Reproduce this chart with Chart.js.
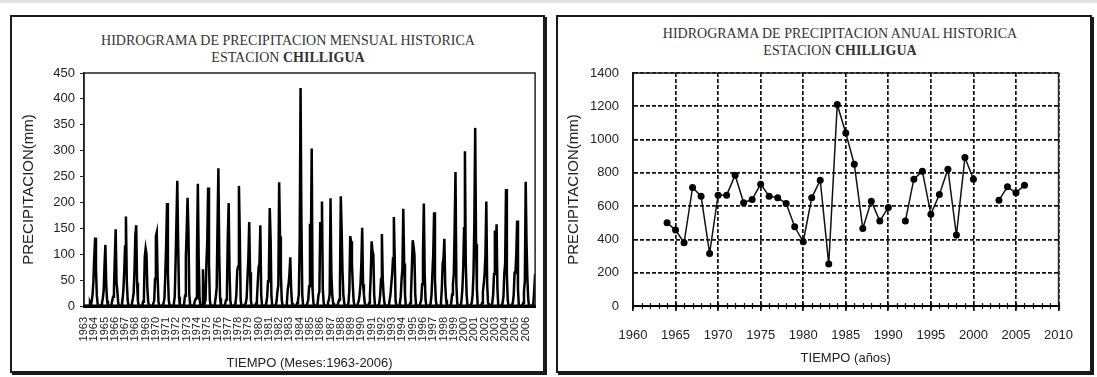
<!DOCTYPE html>
<html>
<head>
<meta charset="utf-8">
<script src="https://cdn.jsdelivr.net/npm/chart.js@4.4.1/dist/chart.umd.min.js"></script>
<style>
  body { margin:0; width:1097px; height:377px; background:#fff; position:relative; overflow:hidden; }
  .strip { position:absolute; left:0; top:0; width:1097px; height:3px; background:#e2e2e2; }
  .panel { position:absolute; border:2px solid #1a1a1a; box-sizing:border-box; box-shadow:2px 2px 0 #1a1a1a; background:#fff; }
  .ttl { position:absolute; font-family:'Liberation Serif','Times New Roman',serif; font-size:14px; color:#333;
         text-align:center; line-height:17px; white-space:nowrap; transform:translateX(-50%); }
  canvas { position:absolute; }
</style>
</head>
<body>
<div class="strip"></div>
<div class="panel" style="left:10px;top:15px;width:535px;height:358px;"></div>
<div class="panel" style="left:556px;top:15px;width:536px;height:358px;"></div>

<div class="ttl" style="left:288px;top:32px;">HIDROGRAMA DE PRECIPITACION MENSUAL HISTORICA<br>ESTACION <b>CHILLIGUA</b></div>
<div class="ttl" style="left:840px;top:25px;">HIDROGRAMA DE PRECIPITACION ANUAL HISTORICA<br>ESTACION <b>CHILLIGUA</b></div>

<canvas id="mensual" width="530" height="354" style="left:12px;top:17px;"></canvas>
<canvas id="anual" width="531" height="354" style="left:559px;top:17px;"></canvas>

<script>
// Años de registro de la estación (eje de meses)
const years = [1963,1964,1965,1966,1967,1968,1969,1970,1971,1972,1973,1974,1975,1976,1977,1978,1979,1980,1981,1982,
               1983,1984,1985,1986,1987,1988,1989,1990,1991,1992,1993,1994,1995,1996,1997,1998,1999,2000,2001,2002,
               2003,2004,2005,2006];

// Precipitación mensual (mm), ene..dic, una fila por año
const lluviaMensual = [
  [0,0,0,0,0,0,0,5,0,10,22,48],
  [95,132,72,20,3,0,0,0,2,5,15,30],
  [80,118,40,10,0,0,0,0,2,10,18,32],
  [92,148,45,28,5,0,0,0,0,12,30,68],
  [115,173,48,12,0,0,0,0,5,14,25,70],
  [137,156,45,10,0,0,0,0,0,8,20,95],
  [111,100,35,8,0,0,0,0,0,5,10,52],
  [135,142,55,8,0,0,0,0,0,6,15,62],
  [120,199,65,12,0,0,0,0,0,5,18,85],
  [165,242,120,18,0,0,0,0,0,5,20,95],
  [148,209,145,22,3,0,0,0,0,6,12,15],
  [105,236,90,15,0,0,0,71,0,6,12,82],
  [125,229,85,12,0,0,0,0,0,6,18,35],
  [155,266,100,15,0,0,0,0,0,5,12,30],
  [134,199,65,10,0,0,0,0,0,6,22,68],
  [76,232,140,12,0,0,0,0,0,6,15,55],
  [92,162,65,10,0,0,0,0,0,5,12,45],
  [75,82,156,22,0,0,0,0,0,6,18,48],
  [64,189,130,18,0,0,0,0,0,10,28,40],
  [239,134,62,12,0,0,0,0,0,6,32,42],
  [62,94,32,6,0,0,0,0,0,6,12,22],
  [130,421,160,22,0,0,0,0,0,6,12,38],
  [159,99,304,32,6,0,0,0,0,6,22,28],
  [162,140,202,32,6,0,0,0,0,6,12,22],
  [208,62,22,6,0,0,0,0,0,6,12,42],
  [212,146,67,22,6,0,0,0,0,6,32,135],
  [125,82,42,10,0,0,0,0,0,10,22,42],
  [82,151,42,22,6,0,0,0,0,6,18,62],
  [125,106,100,22,0,0,0,0,0,6,22,52],
  [139,52,22,6,0,0,0,0,0,10,22,42],
  [62,92,172,92,10,0,0,0,0,6,18,52],
  [72,188,82,22,0,0,0,0,0,6,22,72],
  [127,115,100,22,0,0,0,0,0,6,12,42],
  [100,198,62,12,0,0,0,0,0,6,22,62],
  [100,181,52,12,0,0,0,0,0,6,32,82],
  [92,130,42,12,0,0,0,0,0,6,22,42],
  [62,150,259,42,6,0,0,0,0,10,32,72],
  [150,299,82,22,0,0,0,0,0,6,22,62],
  [160,344,120,32,0,0,0,0,0,6,28,42],
  [62,100,202,42,6,0,0,0,0,6,22,62],
  [146,100,158,32,0,0,0,0,0,6,18,62],
  [82,226,62,12,0,0,0,0,0,6,22,64],
  [64,100,165,32,0,0,0,0,0,6,28,48],
  [240,120,52,12,0,0,0,0,0,6,32,62]
];

// Precipitación anual (mm); null = año sin registro
const anios = [1964,1965,1966,1967,1968,1969,1970,1971,1972,1973,1974,1975,1976,1977,1978,1979,1980,1981,1982,1983,
               1984,1985,1986,1987,1988,1989,1990,1991,1992,1993,1994,1995,1996,1997,1998,1999,2000,2001,2002,2003,
               2004,2005,2006];
const lluviaAnual = [500,456,380,712,660,316,666,666,786,620,640,732,660,650,616,476,386,650,756,252,
                     1210,1040,852,466,630,510,592,null,510,762,810,552,670,822,426,892,762,null,null,636,
                     716,680,726];

const yTicksMensual = [0,50,100,150,200,250,300,350,400,450];
const yTicksAnual = [0,200,400,600,800,1000,1200,1400];
const xTicksAnual = [1960,1965,1970,1975,1980,1985,1990,1995,2000,2005,2010];

const sans = "'Liberation Sans', Arial, sans-serif";
const tickFont = { family: sans, size: 13 };
const axisTitleFont = { family: sans, size: 15 };
const ink = '#222';

// Marco sólido alrededor del área de trazado, con eje inferior más grueso
function marco(anchoBase) {
  return {
    id: 'marco',
    afterDraw(chart) {
      const { ctx, chartArea: a } = chart;
      ctx.save();
      ctx.strokeStyle = ink;
      ctx.lineWidth = 1.5;
      ctx.setLineDash([]);
      ctx.strokeRect(a.left, a.top, a.right - a.left, a.bottom - a.top);
      ctx.strokeStyle = '#000';
      ctx.lineWidth = anchoBase;
      ctx.beginPath();
      ctx.moveTo(a.left, a.bottom);
      ctx.lineTo(a.right, a.bottom);
      ctx.stroke();
      ctx.restore();
    }
  };
}

// Serie mensual continua
const puntosMensuales = [];
lluviaMensual.forEach((fila, i) => fila.forEach((v, m) => puntosMensuales.push({ x: i * 12 + m, y: v })));

new Chart(document.getElementById('mensual'), {
  type: 'line',
  data: { datasets: [{ data: puntosMensuales, borderColor: '#000', borderWidth: 2.5, pointRadius: 0, tension: 0 }] },
  options: {
    responsive: false, animation: false,
    layout: { padding: { left: 0, right: 5, top: 56, bottom: 0 } },
    plugins: { legend: { display: false }, tooltip: { enabled: false } },
    scales: {
      x: {
        type: 'linear', min: 0, max: years.length * 12 - 1,
        afterBuildTicks(s) { s.ticks = years.map((y, i) => ({ value: i * 12 })); },
        afterFit(s) { s.height = 65; },
        ticks: {
          autoSkip: false, minRotation: 90, maxRotation: 90, padding: 3, color: ink,
          font: { family: sans, size: 11 },
          callback: (v) => String(years[Math.round(v / 12)])
        },
        grid: { display: false },
        border: { color: '#000', width: 3 },
        title: { display: true, text: 'TIEMPO (Meses:1963-2006)', color: ink, font: tickFont, padding: { top: 0, bottom: 0 } }
      },
      y: {
        min: 0, max: 450,
        afterBuildTicks(s) { s.ticks = yTicksMensual.map(v => ({ value: v })); },
        afterFit(s) { s.width = 72; },
        ticks: { color: ink, font: tickFont, padding: 5, callback: v => String(v) },
        grid: { drawOnChartArea: false, tickLength: 4, color: ink },
        border: { color: ink, width: 1.5 },
        title: { display: true, text: 'PRECIPITACION(mm)', color: ink, font: axisTitleFont, padding: { top: 8, bottom: 2 } }
      }
    }
  },
  plugins: [marco(3)]
});

// Marcas menores anuales sobre el eje de tiempo
const marcasAnuales = {
  id: 'marcasAnuales',
  afterDraw(chart) {
    const { ctx, scales: { x }, chartArea: a } = chart;
    ctx.save();
    ctx.strokeStyle = '#111';
    ctx.lineWidth = 1.2;
    for (let y = xTicksAnual[0]; y <= xTicksAnual[xTicksAnual.length - 1]; y++) {
      const px = Math.round(x.getPixelForValue(y)) + 0.5;
      ctx.beginPath();
      ctx.moveTo(px, a.bottom - 3);
      ctx.lineTo(px, a.bottom + 3);
      ctx.stroke();
    }
    ctx.restore();
  }
};

new Chart(document.getElementById('anual'), {
  type: 'line',
  data: {
    datasets: [{
      data: anios.map((a, i) => ({ x: a, y: lluviaAnual[i] })),
      borderColor: '#111', borderWidth: 1.5, spanGaps: false, tension: 0,
      pointRadius: 3.5, pointBackgroundColor: '#000', pointBorderColor: '#000', pointBorderWidth: 0
    }]
  },
  options: {
    responsive: false, animation: false,
    layout: { padding: { left: 0, right: 21, top: 56, bottom: 0 } },
    plugins: { legend: { display: false }, tooltip: { enabled: false } },
    scales: {
      x: {
        type: 'linear', min: 1960, max: 2010,
        afterBuildTicks(s) { s.ticks = xTicksAnual.map(v => ({ value: v })); },
        afterFit(s) { s.height = 65; },
        ticks: { color: ink, font: tickFont, padding: 17, maxRotation: 0, callback: v => String(v) },
        grid: { color: '#111', lineWidth: 1.7, tickLength: 5, tickBorderDash: [] },
        border: { color: '#000', width: 2, dash: [4, 2] },
        title: { display: true, text: 'TIEMPO (años)', color: ink, font: tickFont, padding: { top: 0, bottom: 5 } }
      },
      y: {
        min: 0, max: 1400,
        afterBuildTicks(s) { s.ticks = yTicksAnual.map(v => ({ value: v })); },
        afterFit(s) { s.width = 74; },
        ticks: { color: ink, font: tickFont, padding: 14, callback: v => String(v) },
        grid: { color: '#111', lineWidth: 1.7, drawTicks: false },
        border: { color: '#000', width: 2, dash: [4, 2] },
        title: { display: true, text: 'PRECIPITACION(mm)', color: ink, font: axisTitleFont, padding: { top: 6, bottom: 2 } }
      }
    }
  },
  plugins: [marco(2), marcasAnuales]
});
</script>
</body>
</html>
